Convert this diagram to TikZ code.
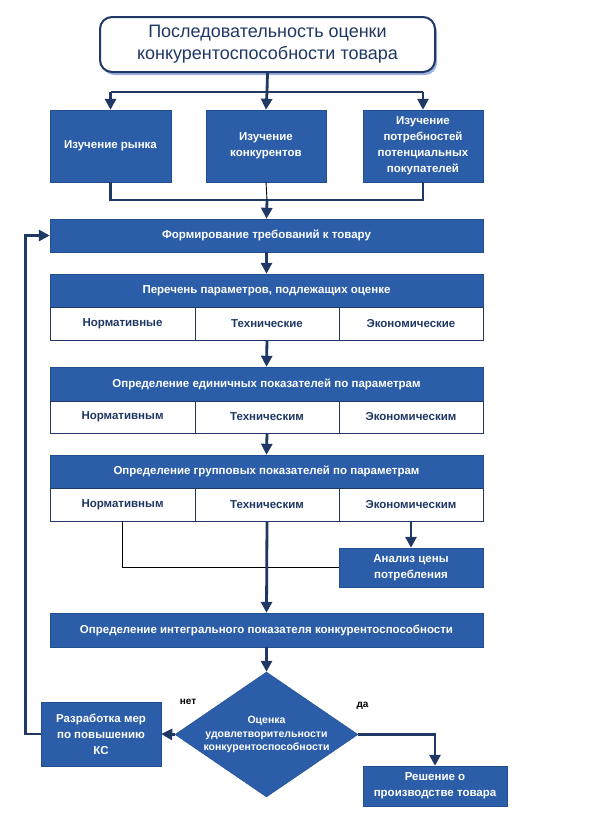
\documentclass[tikz,border=0pt]{standalone}
\usepackage{fontspec}
\setmainfont{Liberation Sans}
\usepackage{xcolor}
\usetikzlibrary{shapes.geometric, arrows.meta, positioning, shadows}
\definecolor{boxblue}{HTML}{2B5DA8}
\definecolor{boxedge}{HTML}{1F4F8F}
\definecolor{navy}{HTML}{1F3864}
\definecolor{shadowblue}{HTML}{9DB3DD}

\begin{document}
\begin{tikzpicture}[x=1pt, y=-1pt]
		\tikzset{
			box/.style={rectangle, draw=boxedge, fill=boxblue, text=white, align=center, inner sep=0pt,
			font=\fontsize{11.5}{16}\selectfont\bfseries},
			cell/.style={rectangle, draw=navy, fill=white, text=navy, align=center, inner sep=0pt,
			minimum height=33pt, font=\fontsize{11.5}{16}\selectfont\bfseries},
			titlebox/.style={rectangle, draw=navy, line width=2pt, fill=white, text=navy, align=center,
			rounded corners=12pt, minimum width=335pt, minimum height=55pt,
			font=\fontsize{18}{22}\selectfont,
			drop shadow={shadow xshift=2pt, shadow yshift=-3pt, fill=shadowblue, opacity=1}},
			decision/.style={diamond, draw=boxedge, fill=boxblue, text=white, align=center, inner sep=0pt,
			aspect=1.46, minimum width=183pt, minimum height=125pt,
			font=\fontsize{10.5}{13.5}\selectfont\bfseries},
			ln/.style={draw=navy, line width=2.8pt},
			arr/.style={ln, -{Triangle[length=11pt, width=11pt]}},
			thinln/.style={draw=black, line width=0.9pt}
		}
		\useasboundingbox (0,0) rectangle (595,823);

		% title and the three studies
		\node[titlebox](title) at (267.5,44.5){Последовательность оценки\\конкурентоспособности товара};
		\node[box, minimum width=121pt, minimum height=72pt](market) at (110.5,146){Изучение рынка};
		\node[box, minimum width=120pt, minimum height=72pt](rivals) at (266,146){Изучение\\конкурентов};
		\node[box, minimum width=120pt, minimum height=72pt](needs) at (423,146){Изучение\\потребностей\\потенциальных\\покупателей};

		% requirements and parameter lists
		\node[box, minimum width=433pt, minimum height=33pt](reqs) at (266.5,235.5){Формирование требований к товару};

		\node[box, minimum width=433pt, minimum height=33pt](params) at (266.5,290.5){Перечень параметров, подлежащих оценке};
		\node[cell, minimum width=145pt](norma) at (122.5,323.5){Нормативные};
		\node[cell, minimum width=144pt](techa) at (267,323.5){Технические};
		\node[cell, minimum width=144pt](econa) at (411,323.5){Экономические};

		\node[box, minimum width=433pt, minimum height=34pt](single) at (266.5,384){Определение единичных показателей по параметрам};
		\node[cell, minimum width=145pt, minimum height=32pt](normb) at (122.5,417){Нормативным};
		\node[cell, minimum width=144pt, minimum height=32pt](techb) at (267,417){Техническим};
		\node[cell, minimum width=144pt, minimum height=32pt](econb) at (411,417){Экономическим};

		\node[box, minimum width=433pt, minimum height=33pt](group) at (266.5,471.5){Определение групповых показателей по параметрам};
		\node[cell, minimum width=145pt](normc) at (122.5,504.5){Нормативным};
		\node[cell, minimum width=144pt](techc) at (267,504.5){Техническим};
		\node[cell, minimum width=144pt](econc) at (411,504.5){Экономическим};

		\node[box, minimum width=144pt, minimum height=39pt](price) at (411,567.5){Анализ цены\\потребления};
		\node[box, minimum width=433pt, minimum height=34pt](integral) at (266.5,630){Определение интегрального показателя конкурентоспособности};

		% decision
		\node[decision](check) at (266.5,734.5){Оценка\\удовлетворительности\\конкурентоспособности};
		\node[box, minimum width=120pt, minimum height=64pt](improve) at (101,734){Разработка мер\\по повышению\\КС};
		\node[box, minimum width=144pt, minimum height=40pt](produce) at (435,786){Решение о\\производстве товара};
		\node[font=\fontsize{10}{12}\selectfont\bfseries](no) at (188,702){нет};
		\node[font=\fontsize{10}{12}\selectfont\bfseries](yes) at (362.5,706){да};

		\coordinate(fork) at (267,92);
		\coordinate(join) at (267,200);

		\draw[ln](title.south) -- (fork);
		\draw[ln](fork -| market) -- (fork -| needs);
		\draw[arr](fork -| market) -- (market.north);
		\draw[arr](fork) -- (rivals.north);
		\draw[arr](fork -| needs) -- (needs.north);

		\draw[ln](market.south) |- (join) -| (needs.south);
		\draw[thinln](rivals.south) -- (join);
		\draw[arr](join) -- (reqs.north);

		\draw[arr](reqs) -- (params);
		\draw[arr](techa.south) -- (single.north);
		\draw[arr](techb.south) -- (group.north);
		\draw[thinln](normc.south) |- (price.west);
		\draw[arr](techc.south) -- (integral.north);
		\draw[arr](econc.south) -- (price.north);
		\draw[arr](integral) -- (check);

		\draw[arr](check.west) -- (improve.east);
		\draw[arr](check.east) -| (produce.north);
		\draw[arr](improve.west) -- ++(-15,0) |- (reqs.west);
	\end{tikzpicture}
\end{document}
